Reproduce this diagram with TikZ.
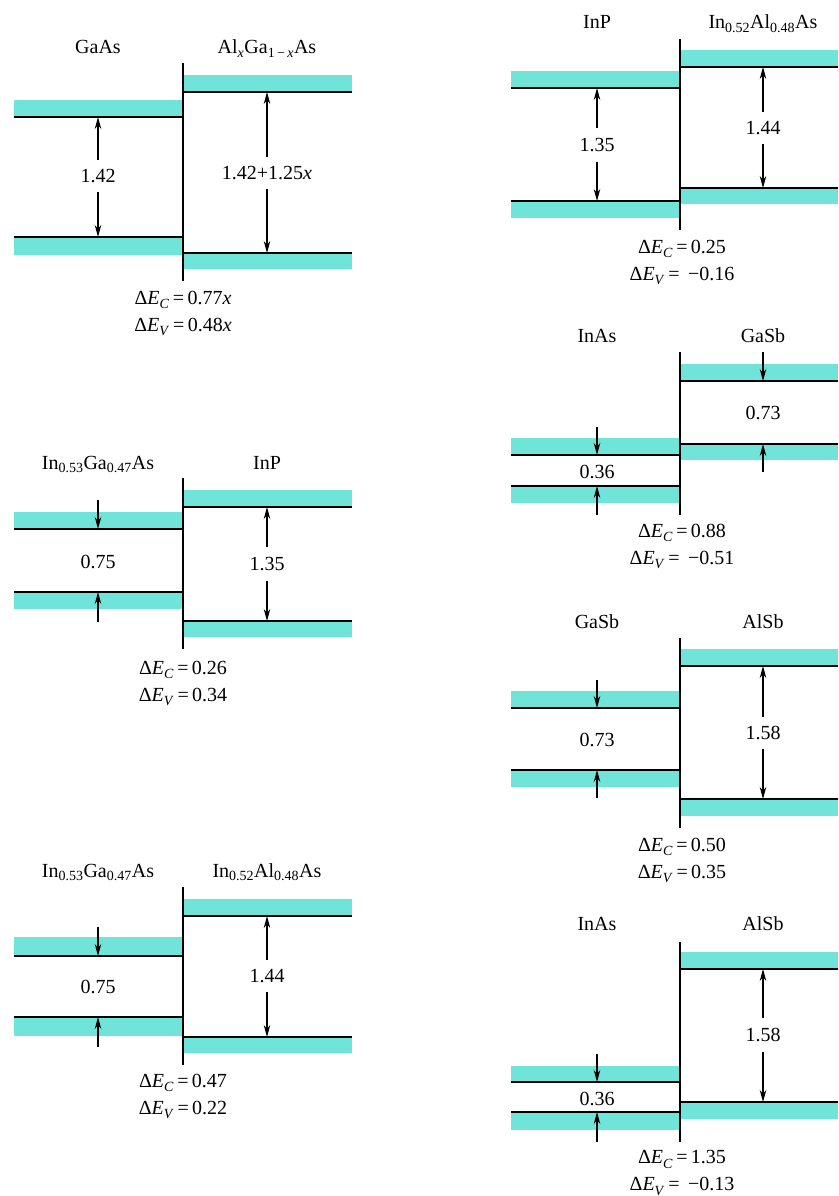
\documentclass[tikz,border=0pt]{standalone}
\usepackage{fontspec}
\setmainfont{Liberation Serif}
\usetikzlibrary{arrows.meta}
\definecolor{bandcol}{RGB}{112,228,216}
\newcommand\CBand[4]{\fill[band] (#1,#3) rectangle (#2,#4); \draw[edge] (#1,#4) -- (#2,#4);}
\newcommand\VBand[4]{\fill[band] (#1,#3) rectangle (#2,#4); \draw[edge] (#1,#3) -- (#2,#3);}
\newcommand\dE[2]{Δ\textit{E}\textsubscript{\raisebox{-0.15ex}{\textit{#1}}}\,=\,#2}
\begin{document}
\begin{tikzpicture}[x=1pt,y=-1pt,
  band/.style={fill=bandcol},
  edge/.style={line width=1.6pt},
  iface/.style={line width=1.6pt},
  garr/.style={line width=1.2pt,-{Stealth[length=12pt,width=6.5pt]}},
  mat/.style={font=\fontsize{20}{24}\selectfont, inner sep=0pt, anchor=base},
  gl/.style={font=\fontsize{20}{24}\selectfont, inner sep=0pt, minimum height=#1},
  gl/.default=32pt,
  de/.style={font=\fontsize{20}{27}\selectfont, inner sep=0pt, align=center}]
\useasboundingbox (0,0) rectangle (838,1196);

% ---------- Panel 1: GaAs / AlGaAs
\CBand{14}{183}{100}{117}
\VBand{14}{183}{237}{255}
\CBand{183}{352}{75}{92}
\VBand{183}{352}{253}{269}
\draw[iface] (183,63) -- (183,281);
\node[mat] (m1a) at (98,54) {GaAs};
\node[mat] (m1b) at (267,54) {Al\textsubscript{\textit{x}}Ga\textsubscript{1\,−\,\textit{x}}As};
\node[gl=32pt] (g1a) at (98,176) {1.42};
\coordinate (g1at) at (98,117); \coordinate (g1ab) at (98,237);
\draw[garr] (g1a) -- (g1at); \draw[garr] (g1a) -- (g1ab);
\node[gl=32pt] (g1b) at (267,173) {1.42+1.25\textit{x}};
\coordinate (g1bt) at (267,92); \coordinate (g1bb) at (267,253);
\draw[garr] (g1b) -- (g1bt); \draw[garr] (g1b) -- (g1bb);
\node[de] (d1) at (183,313) {\dE{C}{0.77\textit{x}}\\\dE{V}{0.48\textit{x}}};

% ---------- Panel 2: InGaAs / InP
\CBand{14}{183}{512}{529}
\VBand{14}{183}{592}{609}
\CBand{183}{352}{490}{507}
\VBand{183}{352}{621}{637}
\draw[iface] (183,478) -- (183,649);
\node[mat] (m2a) at (98,469) {In\textsubscript{0.53}Ga\textsubscript{0.47}As};
\node[mat] (m2b) at (267,469) {InP};
\coordinate (a2s) at (98,500); \coordinate (a2e) at (98,529);
\coordinate (b2s) at (98,622); \coordinate (b2e) at (98,592);
\draw[garr] (a2s) -- (a2e); \draw[garr] (b2s) -- (b2e);
\node[gl] (g2a) at (98,562) {0.75};
\node[gl=33pt] (g2b) at (267,564) {1.35};
\coordinate (g2bt) at (267,507); \coordinate (g2bb) at (267,621);
\draw[garr] (g2b) -- (g2bt); \draw[garr] (g2b) -- (g2bb);
\node[de] (d2) at (183,683) {\dE{C}{0.26}\\\dE{V}{0.34}};

% ---------- Panel 3: InGaAs / InAlAs
\CBand{14}{183}{937}{956}
\VBand{14}{183}{1017}{1036}
\CBand{183}{352}{899}{916}
\VBand{183}{352}{1037}{1053}
\draw[iface] (183,887) -- (183,1065);
\node[mat] (m3a) at (98,877) {In\textsubscript{0.53}Ga\textsubscript{0.47}As};
\node[mat] (m3b) at (267,877) {In\textsubscript{0.52}Al\textsubscript{0.48}As};
\coordinate (a3s) at (98,927); \coordinate (a3e) at (98,956);
\coordinate (b3s) at (98,1047); \coordinate (b3e) at (98,1017);
\draw[garr] (a3s) -- (a3e); \draw[garr] (b3s) -- (b3e);
\node[gl] (g3a) at (98,987) {0.75};
\node[gl=32pt] (g3b) at (267,976) {1.44};
\coordinate (g3bt) at (267,916); \coordinate (g3bb) at (267,1037);
\draw[garr] (g3b) -- (g3bt); \draw[garr] (g3b) -- (g3bb);
\node[de] (d3) at (183,1096) {\dE{C}{0.47}\\\dE{V}{0.22}};

% ---------- Panel 4: InP / InAlAs
\CBand{511}{680}{71}{88}
\VBand{511}{680}{201}{218}
\CBand{680}{838}{50}{67}
\VBand{680}{838}{188}{204}
\draw[iface] (680,39) -- (680,230);
\node[mat] (m4a) at (597,29) {InP};
\node[mat] (m4b) at (763,29) {In\textsubscript{0.52}Al\textsubscript{0.48}As};
\node[gl=33pt] (g4a) at (597,145) {1.35};
\coordinate (g4at) at (597,88); \coordinate (g4ab) at (597,201);
\draw[garr] (g4a) -- (g4at); \draw[garr] (g4a) -- (g4ab);
\node[gl=31pt] (g4b) at (763,128) {1.44};
\coordinate (g4bt) at (763,67); \coordinate (g4bb) at (763,188);
\draw[garr] (g4b) -- (g4bt); \draw[garr] (g4b) -- (g4bb);
\node[de] (d4) at (682,262) {\dE{C}{0.25}\\\dE{V}{\ −0.16}};

% ---------- Panel 5: InAs / GaSb
\CBand{680}{838}{364}{381}
\VBand{680}{838}{444}{460}
\CBand{511}{680}{438}{455}
\VBand{511}{680}{486}{503}
\draw[iface] (680,352) -- (680,515);
\node[mat] (m5a) at (597,342) {InAs};
\node[mat] (m5b) at (763,342) {GaSb};
\coordinate (a5s) at (597,427); \coordinate (a5e) at (597,455);
\coordinate (b5s) at (597,515); \coordinate (b5e) at (597,486);
\draw[garr] (a5s) -- (a5e); \draw[garr] (b5s) -- (b5e);
\node[gl=20pt] (g5a) at (597,472) {0.36};
\coordinate (c5s) at (763,352); \coordinate (c5e) at (763,381);
\coordinate (e5s) at (763,472); \coordinate (e5e) at (763,444);
\draw[garr] (c5s) -- (c5e); \draw[garr] (e5s) -- (e5e);
\node[gl] (g5b) at (763,413) {0.73};
\node[de] (d5) at (682,546) {\dE{C}{0.88}\\\dE{V}{\ −0.51}};

% ---------- Panel 6: GaSb / AlSb
\CBand{680}{838}{649}{666}
\VBand{680}{838}{799}{816}
\CBand{511}{680}{691}{708}
\VBand{511}{680}{770}{787}
\draw[iface] (680,638) -- (680,828);
\node[mat] (m6a) at (597,628) {GaSb};
\node[mat] (m6b) at (763,628) {AlSb};
\coordinate (a6s) at (597,680); \coordinate (a6e) at (597,708);
\coordinate (b6s) at (597,798); \coordinate (b6e) at (597,770);
\draw[garr] (a6s) -- (a6e); \draw[garr] (b6s) -- (b6e);
\node[gl] (g6a) at (597,740) {0.73};
\node[gl=31pt] (g6b) at (763,733) {1.58};
\coordinate (g6bt) at (763,666); \coordinate (g6bb) at (763,799);
\draw[garr] (g6b) -- (g6bt); \draw[garr] (g6b) -- (g6bb);
\node[de] (d6) at (682,860) {\dE{C}{0.50}\\\dE{V}{0.35}};

% ---------- Panel 7: InAs / AlSb
\CBand{680}{838}{952}{969}
\VBand{680}{838}{1102}{1119}
\CBand{511}{680}{1066}{1082}
\VBand{511}{680}{1112}{1130}
\draw[iface] (680,942) -- (680,1142);
\node[mat] (m7a) at (597,930) {InAs};
\node[mat] (m7b) at (763,930) {AlSb};
\coordinate (a7s) at (597,1054); \coordinate (a7e) at (597,1082);
\coordinate (b7s) at (597,1142); \coordinate (b7e) at (597,1112);
\draw[garr] (a7s) -- (a7e); \draw[garr] (b7s) -- (b7e);
\node[gl=20pt] (g7a) at (597,1099) {0.36};
\node[gl=34pt] (g7b) at (763,1035) {1.58};
\coordinate (g7bt) at (763,969); \coordinate (g7bb) at (763,1102);
\draw[garr] (g7b) -- (g7bt); \draw[garr] (g7b) -- (g7bb);
\node[de] (d7) at (682,1173) {\dE{C}{1.35}\\\dE{V}{\ −0.13}};
\end{tikzpicture}
\end{document}
